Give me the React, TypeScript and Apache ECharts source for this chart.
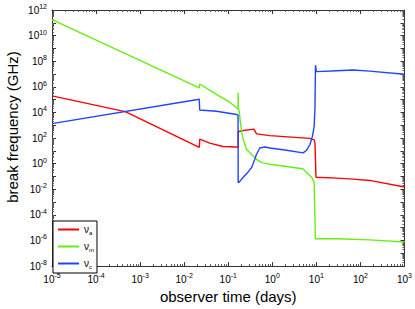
import React, { useEffect, useRef } from "react";
import * as echarts from "echarts";

// observer time (days) and break frequency (GHz) for each break
const nuATime = [1e-5, 4.6e-4, 0.022, 0.0225, 0.038, 0.076, 0.155, 0.168, 0.1685, 0.2, 0.38, 0.44, 0.88, 7.1, 8.9, 9.3, 9.8, 29, 68, 162, 1000];
const nuAValue = [1.95e5, 1.17e4, 19, 81, 40, 22, 20, 20, 309, 372, 500, 210, 155, 95, 72, 40, 0.087, 0.074, 0.062, 0.049, 0.015];

const nuMTime = [1e-5, 0.022, 0.0225, 0.054, 0.11, 0.167, 0.168, 0.1695, 0.177, 0.19, 0.211, 0.26, 0.436, 0.57, 0.88, 4.9, 7.8, 8.9, 9.5, 29, 162, 1000];
const nuMValue = [1.74e11, 8.3e5, 1.66e6, 2.57e5, 6.0e4, 1.86e4, 3.5e5, 2.0e4, 1.38e4, 1.35e3, 129, 12.6, 2.19, 1.2, 0.91, 0.4, 0.087, 0.036, 1.35e-6, 1.35e-6, 1.12e-6, 7.6e-7];

const nuCTime = [1e-5, 0.022, 0.0225, 0.054, 0.155, 0.167, 0.168, 0.177, 0.219, 0.26, 0.34, 0.4, 0.436, 0.52, 0.68, 0.88, 2.1, 5.0, 6.0, 7.1, 8.1, 8.9, 9.3, 9.55, 10, 29, 68, 162, 1000];
const nuCValue = [1.35e3, 1.07e5, 1.55e4, 1.23e4, 6.9e3, 6.2e3, 0.033, 0.036, 0.087, 0.16, 0.5, 2.2, 5.2, 16.6, 20, 16.6, 11.2, 6.9, 11.2, 30, 129, 741, 2.5e4, 4.9e7, 1.55e7, 1.82e7, 2.04e7, 1.7e7, 9.5e6];

const seriesNames = ["a", "m", "c"];
const seriesColors = ["#ff0000", "#66ee11", "#2244ff"];

const xTitle = "observer time (days)";
const yTitle = "break frequency (GHz)";

const FONT = "Liberation Sans, Arial, sans-serif";

function pairs(t: number[], v: number[]) {
  return t.map((x, i) => [x, v[i]]);
}

function expLabel(value: number, every: number) {
  const e = Math.round(Math.log10(value));
  if (e % every !== 0) return "";
  return `{b|10}{sup|${e}}`;
}

const richLabel = {
  b: { fontSize: 10, fontFamily: FONT, color: "#000" },
  sup: { fontSize: 7, fontFamily: FONT, color: "#000", padding: [0, 0, 7, 0] },
};

export default function App() {
  const ref = useRef<HTMLDivElement>(null);
  useEffect(() => {
    if (!ref.current) return;
    const chart = echarts.init(ref.current, undefined, { renderer: "svg" });
    const axisLine = { show: true, lineStyle: { color: "#333", width: 1 } };
    const axisTick = { show: true, inside: true, length: 4, lineStyle: { color: "#333" } };
    const minorTick = { show: true, splitNumber: 9, length: 2, lineStyle: { color: "#555" } };
    const xBase = { type: "log" as const, logBase: 10, min: 1e-5, max: 1e3, interval: 1 };
    const yBase = { type: "log" as const, logBase: 10, min: 1e-8, max: 1e12, interval: 1 };
    const data = [pairs(nuATime, nuAValue), pairs(nuMTime, nuMValue), pairs(nuCTime, nuCValue)];
    chart.setOption({
      animation: false,
      backgroundColor: "#fff",
      grid: { left: 52, right: 10, top: 10, bottom: 36, containLabel: false },
      graphic: [
        {
          type: "text",
          x: 12.5,
          y: 127,
          rotation: Math.PI / 2,
          style: {
            text: yTitle,
            fontSize: 15,
            fontFamily: FONT,
            fill: "#000",
            align: "center",
            verticalAlign: "middle",
          },
        },
      ],
      xAxis: [
        {
          ...xBase,
          position: "bottom",
          axisLine,
          axisTick,
          minorTick,
          splitLine: { show: false },
          axisLabel: { formatter: (v: number) => expLabel(v, 1), rich: richLabel, margin: 6 },
          name: xTitle,
          nameLocation: "middle",
          nameGap: 22,
          nameTextStyle: { fontSize: 15, fontFamily: FONT, color: "#000" },
        },
        {
          ...xBase,
          position: "top",
          axisLine,
          axisTick,
          minorTick,
          splitLine: { show: false },
          axisLabel: { show: false },
        },
      ],
      yAxis: [
        {
          ...yBase,
          position: "left",
          axisLine,
          axisTick,
          minorTick,
          splitLine: { show: false },
          axisLabel: { formatter: (v: number) => expLabel(v, 2), rich: richLabel, margin: 5 },
        },
        {
          ...yBase,
          position: "right",
          axisLine,
          axisTick,
          minorTick,
          splitLine: { show: false },
          axisLabel: { show: false },
        },
      ],
      legend: {
        show: true,
        orient: "vertical",
        left: 53,
        top: 221,
        padding: [2, 3, 3, 5],
        itemGap: 4,
        itemWidth: 21,
        itemHeight: 2,
        icon: "rect",
        borderColor: "#000",
        borderWidth: 1,
        backgroundColor: "#fff",
        data: seriesNames,
        formatter: (name: string) => `{n|ν}{s|${name}}`,
        textStyle: {
          fontFamily: FONT,
          lineHeight: 12,
          rich: {
            n: { fontSize: 10, color: "#000", fontFamily: FONT, lineHeight: 12 },
            s: { fontSize: 6, color: "#000", fontFamily: FONT, lineHeight: 12, padding: [7, 0, 0, 0] },
          },
        },
      },
      series: seriesNames.map((n, i) => ({
        name: n,
        type: "line",
        xAxisIndex: 0,
        yAxisIndex: 0,
        data: data[i],
        showSymbol: false,
        symbol: "none",
        color: seriesColors[i],
        lineStyle: { color: seriesColors[i], width: 1.4 },
        clip: true,
      })),
    });
    return () => chart.dispose();
  }, []);
  return <div ref={ref} style={{ width: 415, height: 309, position: "absolute", left: 0, top: 0 }} />;
}
